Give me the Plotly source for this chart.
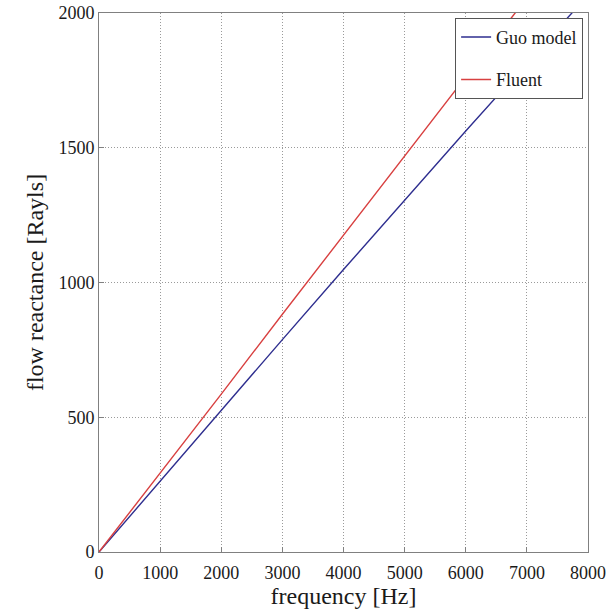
import plotly.graph_objects as go

frequency = [0, 1000, 2000, 3000, 4000, 5000, 6000, 7000, 8000]
guo_model = [0, 264, 526, 788, 1048, 1306, 1562, 1815, 2066]
fluent = [0, 292, 586, 882, 1176, 1470, 1764, 2057, 2350]

x_ticks = [0, 1000, 2000, 3000, 4000, 5000, 6000, 7000, 8000]
y_ticks = [0, 500, 1000, 1500, 2000]

font_family = "Liberation Serif, Times New Roman, serif"

fig = go.Figure()
fig.add_trace(go.Scatter(x=frequency, y=guo_model, mode="lines", name="Guo model",
                         line=dict(color="#2e2e8f", width=1.4), legendgroup="a"))
fig.add_trace(go.Scatter(x=frequency, y=fluent, mode="lines", name="Fluent",
                         line=dict(color="#d84040", width=1.4), legendgroup="b"))

axis_common = dict(
    showline=True, linecolor="#808080", linewidth=1, mirror=True,
    showgrid=True, gridcolor="#9a9a9a", griddash="1px,2px", gridwidth=1,
    ticks="inside", ticklen=5, tickcolor="#808080",
    zeroline=False, automargin=False,
    tickfont=dict(family=font_family, size=18, color="#1a1a1a"),
)

fig.update_xaxes(range=[0, 8000], tickvals=x_ticks, ticklabelstandoff=4,
                 title=dict(text="frequency [Hz]", font=dict(family=font_family, size=24, color="#1a1a1a"), standoff=4),
                 **axis_common)
fig.update_yaxes(range=[0, 2000], tickvals=y_ticks,
                 title=dict(text="flow reactance [Rayls]", font=dict(family=font_family, size=24, color="#1a1a1a"), standoff=8),
                 **axis_common)

fig.update_layout(
    width=608, height=614,
    margin=dict(l=99, r=20, t=13, b=62),
    paper_bgcolor="white", plot_bgcolor="white",
    font=dict(family=font_family, color="#1a1a1a"),
    showlegend=True,
    legend=dict(
        x=0.99, y=0.991, xanchor="right", yanchor="top",
        bordercolor="#555", borderwidth=1, bgcolor="white",
        font=dict(family=font_family, size=18, color="#1a1a1a"),
        traceorder="grouped", tracegroupgap=16,
        itemwidth=30,
    ),
)

fig.write_html("out.html")
